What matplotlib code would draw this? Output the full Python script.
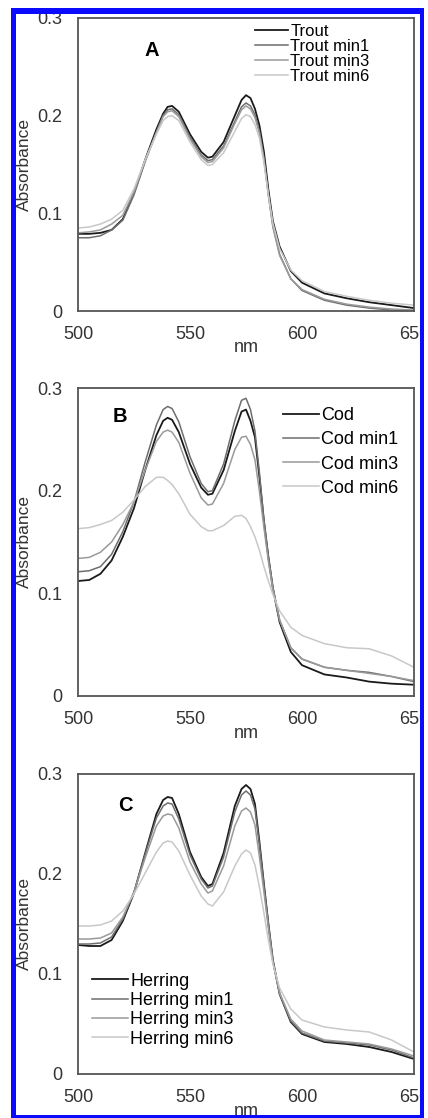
import matplotlib
matplotlib.use("Agg")
import matplotlib.pyplot as plt
from matplotlib.patches import Rectangle

plt.rcParams['font.family'] = ['Liberation Sans', 'DejaVu Sans']
plt.rcParams['font.size'] = 13

# wavelength grid (nm) shared by all spectra
nm = [500, 505, 510, 515, 520, 525, 530, 535, 538, 540, 542, 545, 550, 555,
      558, 560, 565, 570, 573, 575, 577, 579, 581, 583, 585, 587, 590, 595,
      600, 610, 620, 630, 640, 650]

# panel A - trout
trout = [.079, .079, .080, .083, .094, .121, .155, .186, .202, .209, .210, .204, .181, .163,
         .157, .158, .173, .200, .216, .221, .218, .207, .190, .163, .124, .092, .066, .041,
         .029, .018, .013, .009, .006, .003]
trout_min1 = [.075, .075, .077, .083, .093, .119, .153, .183, .200, .206, .207, .201, .178, .160,
              .154, .155, .169, .194, .209, .213, .210, .201, .184, .157, .119, .087, .058, .033,
              .021, .011, .006, .003, .001, .000]
trout_min3 = [.080, .081, .083, .089, .098, .122, .154, .183, .199, .204, .205, .199, .176, .158,
              .152, .153, .167, .192, .206, .210, .207, .198, .182, .155, .118, .086, .057, .033,
              .022, .012, .007, .004, .002, .001]
trout_min6 = [.085, .086, .089, .094, .103, .125, .155, .181, .195, .199, .200, .195, .173, .155,
              .149, .150, .162, .184, .197, .201, .199, .191, .177, .152, .119, .090, .064, .042,
              .031, .020, .015, .011, .008, .006]

# panel B - cod
cod = [.112, .113, .119, .132, .155, .183, .220, .254, .268, .271, .269, .257, .226, .203,
       .196, .197, .220, .258, .277, .279, .268, .252, .213, .170, .135, .105, .072, .043,
       .030, .021, .018, .014, .012, .011]
cod_min1 = [.121, .122, .126, .138, .160, .189, .228, .264, .279, .282, .280, .267, .233, .207,
            .199, .200, .226, .268, .288, .290, .279, .258, .217, .172, .136, .106, .074, .047,
            .036, .028, .025, .023, .019, .014]
cod_min3 = [.134, .135, .140, .150, .167, .189, .220, .248, .257, .259, .257, .247, .217, .193,
            .186, .187, .207, .240, .252, .253, .245, .230, .199, .164, .131, .104, .074, .047,
            .036, .028, .025, .022, .019, .015]
cod_min6 = [.163, .164, .167, .171, .179, .191, .204, .213, .213, .210, .206, .197, .177, .165,
            .161, .161, .166, .175, .176, .173, .165, .155, .142, .126, .112, .099, .083, .067,
            .059, .051, .047, .046, .039, .028]

# panel C - herring
herring = [.129, .128, .128, .134, .153, .181, .221, .260, .274, .277, .276, .260, .222, .197,
           .188, .190, .221, .268, .285, .289, .285, .270, .232, .190, .150, .114, .080, .052,
           .040, .032, .030, .027, .022, .015]
herring_min1 = [.130, .130, .131, .137, .155, .182, .220, .256, .268, .271, .270, .255, .219, .195,
                .186, .188, .217, .262, .279, .283, .279, .265, .229, .189, .150, .113, .080, .053,
                .041, .033, .031, .029, .024, .016]
herring_min3 = [.135, .135, .136, .141, .157, .182, .216, .248, .258, .260, .259, .246, .212, .190,
                .181, .183, .208, .248, .263, .266, .262, .249, .217, .182, .146, .112, .081, .055,
                .043, .034, .032, .030, .025, .018]
herring_min6 = [.148, .148, .149, .153, .163, .180, .201, .222, .231, .233, .232, .223, .199, .178,
                .170, .168, .182, .208, .220, .224, .221, .209, .187, .161, .134, .110, .086, .065,
                .054, .047, .044, .042, .034, .022]

colors = ['#1a1a1a', '#6e6e6e', '#9a9a9a', '#c8c8c8']
widths = [1.3, 1.1, 1.1, 1.1]

W, H = 428, 1118
fig = plt.figure(figsize=(W / 100, H / 100), dpi=100)
fig.patch.set_facecolor('white')

panels = [
    dict(top=18, bottom=311, letter='A', lx=0.22, ly=0.89,
         names=['Trout', 'Trout min1', 'Trout min3', 'Trout min6'],
         data=[trout, trout_min1, trout_min3, trout_min6],
         leg=(0.527, 0.98), spacing=0.0, lfs=12),
    dict(top=388, bottom=696, letter='B', lx=0.125, ly=0.909,
         names=['Cod', 'Cod min1', 'Cod min3', 'Cod min6'],
         data=[cod, cod_min1, cod_min3, cod_min6],
         leg=(0.61, 0.938), spacing=0.4, lfs=13),
    dict(top=774, bottom=1074, letter='C', lx=0.14, ly=0.896,
         names=['Herring', 'Herring min1', 'Herring min3', 'Herring min6'],
         data=[herring, herring_min1, herring_min3, herring_min6],
         leg=(0.042, 0.338), spacing=0.13, lfs=13),
]

for p in panels:
    ax = fig.add_axes([78 / W, 1 - p['bottom'] / H, 336 / W, (p['bottom'] - p['top']) / H])
    for ys, name, c, lw in zip(p['data'], p['names'], colors, widths):
        ax.plot(nm, ys, color=c, lw=lw, label=name)
    ax.set_xlim(500, 650)
    ax.set_ylim(0, 0.3)
    ax.set_xticks([500, 550, 600, 650])
    ax.set_yticks([0, 0.1, 0.2, 0.3])
    ax.set_yticklabels(['0', '0.1', '0.2', '0.3'])
    ax.tick_params(length=0, pad=11, labelsize=13, colors='#333333')
    for s in ax.spines.values():
        s.set_color('#555555')
        s.set_linewidth(1.3)
    ax.set_xlabel('nm', fontsize=13, color='#333333')
    ax.xaxis.set_label_coords(0.5, -0.095)
    ax.set_ylabel('Absorbance', fontsize=12.5, color='#333333')
    ax.yaxis.set_label_coords(-0.137, 0.5)
    ax.text(p['lx'], p['ly'], p['letter'], transform=ax.transAxes, fontsize=14.5,
            fontweight='bold', ha='center', va='center')
    ax.legend(loc='upper left', bbox_to_anchor=p['leg'], frameon=False, fontsize=p['lfs'],
              borderpad=0, borderaxespad=0, handlelength=2.0, handletextpad=0.12,
              labelspacing=p['spacing'])

# white margin outside the blue frame, then the frame itself
def fig_rect(x0, y0, x1, y1, color):
    fig.add_artist(Rectangle((x0 / W, 1 - y1 / H), (x1 - x0) / W, (y1 - y0) / H,
                             transform=fig.transFigure, facecolor=color,
                             edgecolor='none', zorder=10))

fig_rect(424, 0, W, H, 'white')
fig_rect(0, 0, W, 8, 'white')
fig_rect(0, 0, 11, H, 'white')
blue = '#0a0aff'
fig_rect(11, 8, 424, 14, blue)
fig_rect(11, 8, 16, H, blue)
fig_rect(420, 8, 424, H, blue)
fig_rect(11, 1115, 424, H, blue)

fig.savefig('out.png', dpi=100)
